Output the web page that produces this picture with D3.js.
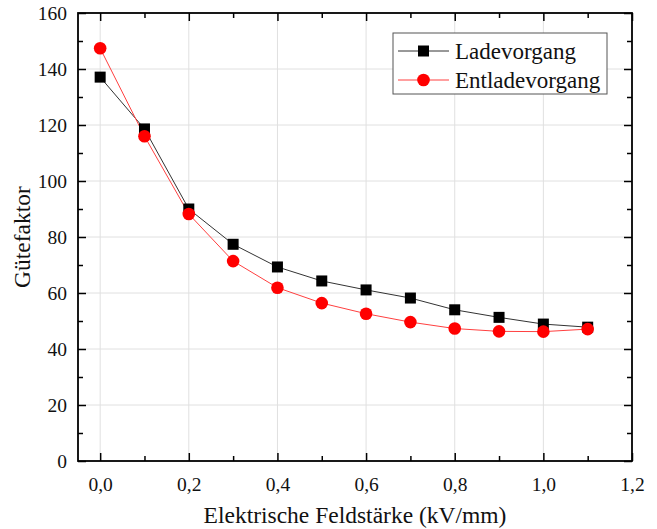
<!DOCTYPE html>
<html>
<head>
<meta charset="utf-8">
<script src="https://cdn.jsdelivr.net/npm/d3@7"></script>
<style>
  body { margin: 0; background: #fff; }
</style>
</head>
<body>
<div id="chart"></div>
<script>
// Messwerte
const feldstaerke = [0.0, 0.1, 0.2, 0.3, 0.4, 0.5, 0.6, 0.7, 0.8, 0.9, 1.0, 1.1];
const ladevorgang = [137.1, 118.6, 90.0, 77.4, 69.3, 64.3, 61.1, 58.2, 54.0, 51.3, 48.9, 47.8];
const entladevorgang = [147.4, 116.0, 88.2, 71.4, 61.9, 56.4, 52.6, 49.6, 47.3, 46.3, 46.2, 47.1];
const xTicks = [0.0, 0.2, 0.4, 0.6, 0.8, 1.0, 1.2];
const yTicks = [0, 20, 40, 60, 80, 100, 120, 140, 160];
const seriesNames = ['Ladevorgang', 'Entladevorgang'];

const FONT = "'Liberation Serif', 'Times New Roman', serif";
const width = 657, height = 529;
const margin = { top: 13, right: 25, bottom: 68, left: 78 };

const svg = d3.select('#chart').append('svg')
    .attr('width', width)
    .attr('height', height);

const x = d3.scaleLinear().domain([-0.05, 1.2]).range([margin.left, width - margin.right]);
const y = d3.scaleLinear().domain([0, 160]).range([height - margin.bottom, margin.top]);

const fmt = d => d.toFixed(1).replace('.', ',');

// Gitterlinien
svg.append('g').selectAll('line').data(xTicks.filter(d => d < 1.2)).join('line')
    .attr('x1', d => x(d)).attr('x2', d => x(d))
    .attr('y1', y(0)).attr('y2', y(160))
    .attr('stroke', '#e0e0e0').attr('stroke-width', 1);
svg.append('g').selectAll('line').data(yTicks.filter(d => d > 0 && d < 160)).join('line')
    .attr('x1', x(-0.05)).attr('x2', x(1.2))
    .attr('y1', d => y(d)).attr('y2', d => y(d))
    .attr('stroke', '#e0e0e0').attr('stroke-width', 1);

// Achsen (Ticks nach innen)
const xMinor = d3.range(0.1, 1.2, 0.2);
const yMinor = d3.range(10, 160, 20);

function styleAxis(g) {
    g.attr('font-family', null);
    g.select('.domain').remove();
    g.selectAll('.tick line').attr('stroke', '#000').attr('stroke-width', 1.5);
    g.selectAll('.tick text')
        .style('font-family', FONT)
        .style('font-size', '19.5px')
        .attr('fill', '#111');
}

svg.append('g').attr('transform', `translate(0,${y(0)})`)
    .call(d3.axisBottom(x).tickValues(xTicks).tickFormat(fmt).tickSizeInner(-8).tickPadding(16))
    .call(styleAxis);
svg.append('g').attr('transform', `translate(0,${y(0)})`)
    .call(d3.axisBottom(x).tickValues(xMinor).tickFormat('').tickSizeInner(-5))
    .call(styleAxis);
svg.append('g').attr('transform', `translate(0,${y(160)})`)
    .call(d3.axisTop(x).tickValues(xTicks).tickFormat('').tickSizeInner(-8))
    .call(styleAxis);
svg.append('g').attr('transform', `translate(0,${y(160)})`)
    .call(d3.axisTop(x).tickValues(xMinor).tickFormat('').tickSizeInner(-5))
    .call(styleAxis);

svg.append('g').attr('transform', `translate(${x(-0.05)},0)`)
    .call(d3.axisLeft(y).tickValues(yTicks).tickSizeInner(-8).tickPadding(11))
    .call(styleAxis);
svg.append('g').attr('transform', `translate(${x(-0.05)},0)`)
    .call(d3.axisLeft(y).tickValues(yMinor).tickFormat('').tickSizeInner(-5))
    .call(styleAxis);
svg.append('g').attr('transform', `translate(${x(1.2)},0)`)
    .call(d3.axisRight(y).tickValues(yTicks).tickFormat('').tickSizeInner(-8))
    .call(styleAxis);
svg.append('g').attr('transform', `translate(${x(1.2)},0)`)
    .call(d3.axisRight(y).tickValues(yMinor).tickFormat('').tickSizeInner(-5))
    .call(styleAxis);

// Rahmen
svg.append('rect')
    .attr('x', x(-0.05)).attr('y', y(160))
    .attr('width', x(1.2) - x(-0.05)).attr('height', y(0) - y(160))
    .attr('fill', 'none').attr('stroke', '#000').attr('stroke-width', 1.8);

// Kurven
const line = d3.line().x(d => x(d[0])).y(d => y(d[1]));
const ladeData = feldstaerke.map((v, i) => [v, ladevorgang[i]]);
const entladeData = feldstaerke.map((v, i) => [v, entladevorgang[i]]);

svg.append('path').datum(ladeData).attr('d', line)
    .attr('fill', 'none').attr('stroke', '#333').attr('stroke-width', 1);
svg.append('path').datum(entladeData).attr('d', line)
    .attr('fill', 'none').attr('stroke', '#ff4040').attr('stroke-width', 1);

const sq = 11;
svg.append('g').selectAll('rect').data(ladeData).join('rect')
    .attr('x', d => x(d[0]) - sq / 2).attr('y', d => y(d[1]) - sq / 2)
    .attr('width', sq).attr('height', sq).attr('fill', '#000');
svg.append('g').selectAll('circle').data(entladeData).join('circle')
    .attr('cx', d => x(d[0])).attr('cy', d => y(d[1]))
    .attr('r', 6.3).attr('fill', '#ff0000');

// Achsentitel
svg.append('text')
    .attr('x', (x(-0.05) + x(1.2)) / 2).attr('y', 523)
    .attr('text-anchor', 'middle')
    .style('font-family', FONT).style('font-size', '23.5px').attr('fill', '#111')
    .text('Elektrische Feldstärke (kV/mm)');
svg.append('text')
    .attr('transform', `translate(30,${(y(0) + y(160)) / 2}) rotate(-90)`)
    .attr('text-anchor', 'middle')
    .style('font-family', FONT).style('font-size', '23.5px').attr('fill', '#111')
    .text('Gütefaktor');

// Legende
const legend = svg.append('g').attr('transform', 'translate(393,33)');
legend.append('rect').attr('width', 214).attr('height', 61)
    .attr('fill', '#fff').attr('stroke', '#555').attr('stroke-width', 1);
const rows = [
    { name: seriesNames[0], color: '#333', marker: 'square', cy: 18 },
    { name: seriesNames[1], color: '#ff4040', marker: 'circle', cy: 47 }
];
rows.forEach(r => {
    legend.append('line').attr('x1', 5).attr('x2', 56)
        .attr('y1', r.cy).attr('y2', r.cy)
        .attr('stroke', r.color).attr('stroke-width', 1);
    if (r.marker === 'square') {
        legend.append('rect').attr('x', 30.5 - 5.5).attr('y', r.cy - 5.5)
            .attr('width', 11).attr('height', 11).attr('fill', '#000');
    } else {
        legend.append('circle').attr('cx', 30.5).attr('cy', r.cy)
            .attr('r', 6.3).attr('fill', '#ff0000');
    }
    legend.append('text').attr('x', 62).attr('y', r.cy + 8)
        .style('font-family', FONT).style('font-size', '23px').attr('fill', '#111')
        .text(r.name);
});
</script>
</body>
</html>
